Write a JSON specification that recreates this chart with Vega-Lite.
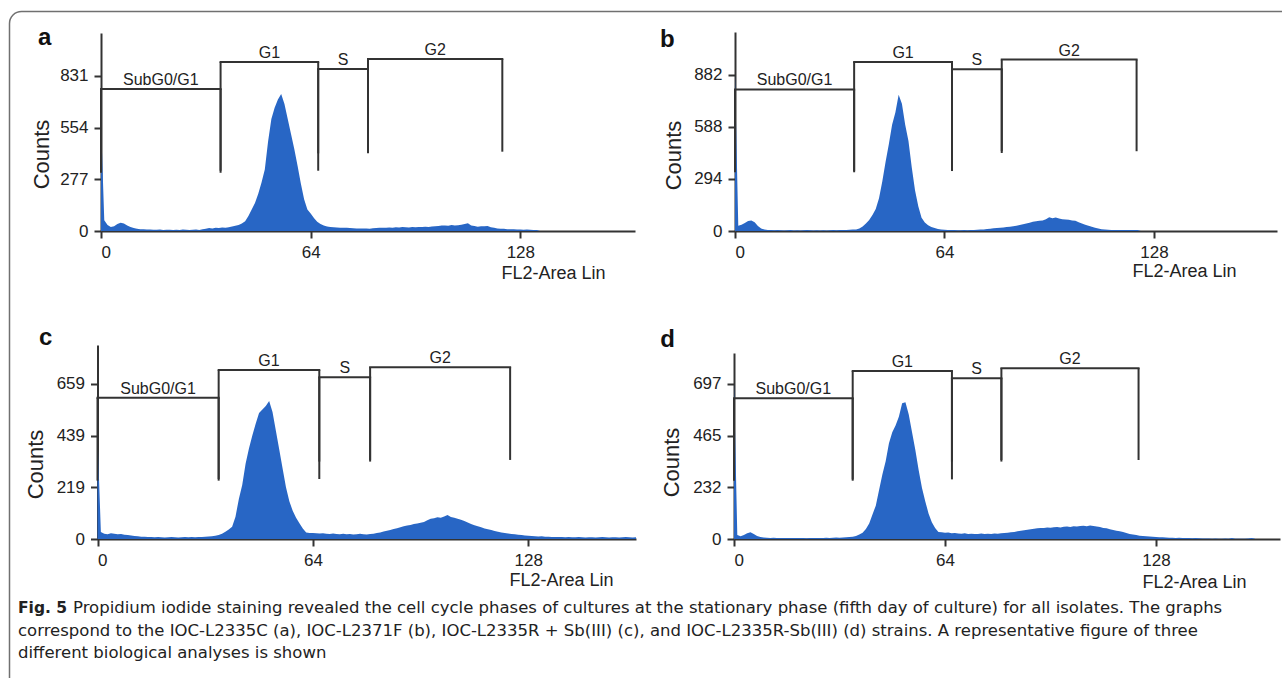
{
  "$schema": "https://vega.github.io/schema/vega-lite/v6.json",
  "width": 1282,
  "height": 678,
  "autosize": {"type": "none"},
  "padding": 0,
  "background": "white",
  "datasets": {
    "a": [{"x":0,"y":583},{"x":1,"y":58},{"x":2,"y":32},{"x":3,"y":22},{"x":4,"y":25},{"x":5,"y":38},{"x":6,"y":44},{"x":7,"y":40},{"x":8,"y":30},{"x":9,"y":22},{"x":10,"y":16},{"x":11,"y":12},{"x":12,"y":10},{"x":13,"y":9},{"x":14,"y":8},{"x":15,"y":8},{"x":16,"y":7},{"x":17,"y":7},{"x":18,"y":8},{"x":19,"y":6},{"x":20,"y":7},{"x":21,"y":7},{"x":22,"y":6},{"x":23,"y":7},{"x":24,"y":6},{"x":25,"y":8},{"x":26,"y":7},{"x":27,"y":6},{"x":28,"y":7},{"x":29,"y":8},{"x":30,"y":6},{"x":31,"y":10},{"x":32,"y":12},{"x":33,"y":16},{"x":34,"y":14},{"x":35,"y":17},{"x":36,"y":16},{"x":37,"y":19},{"x":38,"y":18},{"x":39,"y":20},{"x":40,"y":24},{"x":41,"y":28},{"x":42,"y":32},{"x":43,"y":40},{"x":44,"y":52},{"x":45,"y":80},{"x":46,"y":115},{"x":47,"y":150},{"x":48,"y":200},{"x":49,"y":260},{"x":50,"y":330},{"x":51,"y":480},{"x":52,"y":600},{"x":53,"y":660},{"x":54,"y":705},{"x":55,"y":734},{"x":56,"y":680},{"x":57,"y":600},{"x":58,"y":520},{"x":59,"y":440},{"x":60,"y":350},{"x":61,"y":254},{"x":62,"y":170},{"x":63,"y":115},{"x":64,"y":94},{"x":65,"y":70},{"x":66,"y":50},{"x":67,"y":38},{"x":68,"y":30},{"x":69,"y":24},{"x":70,"y":22},{"x":71,"y":20},{"x":72,"y":19},{"x":73,"y":18},{"x":74,"y":17},{"x":75,"y":18},{"x":76,"y":16},{"x":77,"y":15},{"x":78,"y":14},{"x":79,"y":14},{"x":80,"y":13},{"x":81,"y":14},{"x":82,"y":12},{"x":83,"y":15},{"x":84,"y":16},{"x":85,"y":17},{"x":86,"y":18},{"x":87,"y":17},{"x":88,"y":19},{"x":89,"y":18},{"x":90,"y":20},{"x":91,"y":19},{"x":92,"y":21},{"x":93,"y":20},{"x":94,"y":19},{"x":95,"y":21},{"x":96,"y":20},{"x":97,"y":22},{"x":98,"y":21},{"x":99,"y":23},{"x":100,"y":22},{"x":101,"y":24},{"x":102,"y":25},{"x":103,"y":27},{"x":104,"y":29},{"x":105,"y":30},{"x":106,"y":28},{"x":107,"y":32},{"x":108,"y":29},{"x":109,"y":31},{"x":110,"y":33},{"x":111,"y":38},{"x":112,"y":41},{"x":113,"y":30},{"x":114,"y":27},{"x":115,"y":23},{"x":116,"y":26},{"x":117,"y":25},{"x":118,"y":27},{"x":119,"y":20},{"x":120,"y":18},{"x":121,"y":14},{"x":122,"y":12},{"x":123,"y":12},{"x":124,"y":10},{"x":125,"y":9},{"x":126,"y":9},{"x":127,"y":8},{"x":128,"y":8},{"x":129,"y":7},{"x":130,"y":8},{"x":131,"y":7},{"x":132,"y":6},{"x":133,"y":6},{"x":134,"y":0}],
    "b": [{"x":0,"y":880},{"x":1,"y":30},{"x":2,"y":35},{"x":3,"y":45},{"x":4,"y":57},{"x":5,"y":60},{"x":6,"y":50},{"x":7,"y":28},{"x":8,"y":14},{"x":9,"y":8},{"x":10,"y":6},{"x":11,"y":5},{"x":12,"y":4},{"x":13,"y":5},{"x":14,"y":4},{"x":15,"y":3},{"x":16,"y":4},{"x":17,"y":5},{"x":18,"y":3},{"x":19,"y":4},{"x":20,"y":3},{"x":21,"y":4},{"x":22,"y":5},{"x":23,"y":4},{"x":24,"y":3},{"x":25,"y":4},{"x":26,"y":3},{"x":27,"y":4},{"x":28,"y":3},{"x":29,"y":4},{"x":30,"y":5},{"x":31,"y":4},{"x":32,"y":5},{"x":33,"y":6},{"x":34,"y":6},{"x":35,"y":7},{"x":36,"y":8},{"x":37,"y":9},{"x":38,"y":14},{"x":39,"y":26},{"x":40,"y":42},{"x":41,"y":62},{"x":42,"y":90},{"x":43,"y":125},{"x":44,"y":185},{"x":45,"y":280},{"x":46,"y":390},{"x":47,"y":490},{"x":48,"y":600},{"x":49,"y":670},{"x":50,"y":770},{"x":51,"y":720},{"x":52,"y":600},{"x":53,"y":509},{"x":54,"y":360},{"x":55,"y":230},{"x":56,"y":140},{"x":57,"y":75},{"x":58,"y":48},{"x":59,"y":32},{"x":60,"y":22},{"x":61,"y":17},{"x":62,"y":12},{"x":63,"y":9},{"x":64,"y":7},{"x":65,"y":6},{"x":66,"y":5},{"x":67,"y":5},{"x":68,"y":4},{"x":69,"y":4},{"x":70,"y":5},{"x":71,"y":4},{"x":72,"y":6},{"x":73,"y":5},{"x":74,"y":7},{"x":75,"y":8},{"x":76,"y":9},{"x":77,"y":12},{"x":78,"y":13},{"x":79,"y":15},{"x":80,"y":17},{"x":81,"y":19},{"x":82,"y":20},{"x":83,"y":22},{"x":84,"y":24},{"x":85,"y":27},{"x":86,"y":30},{"x":87,"y":34},{"x":88,"y":38},{"x":89,"y":42},{"x":90,"y":46},{"x":91,"y":52},{"x":92,"y":55},{"x":93,"y":58},{"x":94,"y":60},{"x":95,"y":66},{"x":96,"y":78},{"x":97,"y":72},{"x":98,"y":76},{"x":99,"y":70},{"x":100,"y":67},{"x":101,"y":65},{"x":102,"y":63},{"x":103,"y":60},{"x":104,"y":58},{"x":105,"y":50},{"x":106,"y":42},{"x":107,"y":36},{"x":108,"y":30},{"x":109,"y":24},{"x":110,"y":18},{"x":111,"y":14},{"x":112,"y":10},{"x":113,"y":8},{"x":114,"y":7},{"x":115,"y":6},{"x":116,"y":6},{"x":117,"y":5},{"x":118,"y":6},{"x":119,"y":5},{"x":120,"y":6},{"x":121,"y":5},{"x":122,"y":6},{"x":123,"y":5},{"x":124,"y":0}],
    "c": [{"x":0,"y":441},{"x":1,"y":30},{"x":2,"y":22},{"x":3,"y":20},{"x":4,"y":24},{"x":5,"y":22},{"x":6,"y":20},{"x":7,"y":21},{"x":8,"y":18},{"x":9,"y":17},{"x":10,"y":15},{"x":11,"y":13},{"x":12,"y":12},{"x":13,"y":10},{"x":14,"y":10},{"x":15,"y":9},{"x":16,"y":8},{"x":17,"y":7},{"x":18,"y":8},{"x":19,"y":7},{"x":20,"y":6},{"x":21,"y":7},{"x":22,"y":8},{"x":23,"y":7},{"x":24,"y":6},{"x":25,"y":7},{"x":26,"y":8},{"x":27,"y":7},{"x":28,"y":8},{"x":29,"y":7},{"x":30,"y":8},{"x":31,"y":9},{"x":32,"y":10},{"x":33,"y":11},{"x":34,"y":12},{"x":35,"y":14},{"x":36,"y":17},{"x":37,"y":22},{"x":38,"y":31},{"x":39,"y":40},{"x":40,"y":52},{"x":41,"y":95},{"x":42,"y":170},{"x":43,"y":230},{"x":44,"y":320},{"x":45,"y":385},{"x":46,"y":440},{"x":47,"y":490},{"x":48,"y":535},{"x":49,"y":550},{"x":50,"y":565},{"x":51,"y":586},{"x":52,"y":540},{"x":53,"y":460},{"x":54,"y":380},{"x":55,"y":300},{"x":56,"y":220},{"x":57,"y":160},{"x":58,"y":120},{"x":59,"y":90},{"x":60,"y":67},{"x":61,"y":45},{"x":62,"y":28},{"x":63,"y":26},{"x":64,"y":25},{"x":65,"y":24},{"x":66,"y":23},{"x":67,"y":24},{"x":68,"y":22},{"x":69,"y":21},{"x":70,"y":23},{"x":71,"y":21},{"x":72,"y":20},{"x":73,"y":22},{"x":74,"y":20},{"x":75,"y":21},{"x":76,"y":19},{"x":77,"y":20},{"x":78,"y":22},{"x":79,"y":20},{"x":80,"y":19},{"x":81,"y":21},{"x":82,"y":22},{"x":83,"y":25},{"x":84,"y":28},{"x":85,"y":32},{"x":86,"y":35},{"x":87,"y":38},{"x":88,"y":42},{"x":89,"y":46},{"x":90,"y":50},{"x":91,"y":54},{"x":92,"y":57},{"x":93,"y":60},{"x":94,"y":64},{"x":95,"y":66},{"x":96,"y":69},{"x":97,"y":72},{"x":98,"y":80},{"x":99,"y":86},{"x":100,"y":88},{"x":101,"y":92},{"x":102,"y":90},{"x":103,"y":96},{"x":104,"y":102},{"x":105,"y":94},{"x":106,"y":90},{"x":107,"y":86},{"x":108,"y":82},{"x":109,"y":76},{"x":110,"y":70},{"x":111,"y":64},{"x":112,"y":58},{"x":113,"y":54},{"x":114,"y":50},{"x":115,"y":45},{"x":116,"y":41},{"x":117,"y":38},{"x":118,"y":34},{"x":119,"y":31},{"x":120,"y":28},{"x":121,"y":26},{"x":122,"y":23},{"x":123,"y":21},{"x":124,"y":20},{"x":125,"y":18},{"x":126,"y":17},{"x":127,"y":15},{"x":128,"y":14},{"x":129,"y":13},{"x":130,"y":12},{"x":131,"y":11},{"x":132,"y":12},{"x":133,"y":10},{"x":134,"y":10},{"x":135,"y":9},{"x":136,"y":8},{"x":137,"y":9},{"x":138,"y":8},{"x":139,"y":7},{"x":140,"y":8},{"x":141,"y":7},{"x":142,"y":7},{"x":143,"y":8},{"x":144,"y":7},{"x":145,"y":6},{"x":146,"y":7},{"x":147,"y":7},{"x":148,"y":6},{"x":149,"y":7},{"x":150,"y":8},{"x":151,"y":7},{"x":152,"y":6},{"x":153,"y":7},{"x":154,"y":7},{"x":155,"y":6},{"x":156,"y":7},{"x":157,"y":8},{"x":158,"y":7},{"x":159,"y":6},{"x":160,"y":7}],
    "d": [{"x":0,"y":700},{"x":1,"y":18},{"x":2,"y":12},{"x":3,"y":18},{"x":4,"y":26},{"x":5,"y":30},{"x":6,"y":22},{"x":7,"y":14},{"x":8,"y":9},{"x":9,"y":7},{"x":10,"y":6},{"x":11,"y":5},{"x":12,"y":6},{"x":13,"y":5},{"x":14,"y":5},{"x":15,"y":4},{"x":16,"y":5},{"x":17,"y":4},{"x":18,"y":5},{"x":19,"y":4},{"x":20,"y":5},{"x":21,"y":4},{"x":22,"y":3},{"x":23,"y":4},{"x":24,"y":4},{"x":25,"y":5},{"x":26,"y":4},{"x":27,"y":5},{"x":28,"y":6},{"x":29,"y":5},{"x":30,"y":6},{"x":31,"y":7},{"x":32,"y":6},{"x":33,"y":7},{"x":34,"y":8},{"x":35,"y":9},{"x":36,"y":10},{"x":37,"y":14},{"x":38,"y":20},{"x":39,"y":28},{"x":40,"y":45},{"x":41,"y":70},{"x":42,"y":110},{"x":43,"y":150},{"x":44,"y":220},{"x":45,"y":290},{"x":46,"y":350},{"x":47,"y":430},{"x":48,"y":480},{"x":49,"y":510},{"x":50,"y":550},{"x":51,"y":610},{"x":52,"y":615},{"x":53,"y":560},{"x":54,"y":480},{"x":55,"y":400},{"x":56,"y":310},{"x":57,"y":230},{"x":58,"y":170},{"x":59,"y":115},{"x":60,"y":75},{"x":61,"y":50},{"x":62,"y":32},{"x":63,"y":30},{"x":64,"y":28},{"x":65,"y":29},{"x":66,"y":26},{"x":67,"y":27},{"x":68,"y":25},{"x":69,"y":24},{"x":70,"y":26},{"x":71,"y":23},{"x":72,"y":24},{"x":73,"y":22},{"x":74,"y":23},{"x":75,"y":25},{"x":76,"y":22},{"x":77,"y":24},{"x":78,"y":23},{"x":79,"y":25},{"x":80,"y":24},{"x":81,"y":26},{"x":82,"y":27},{"x":83,"y":28},{"x":84,"y":30},{"x":85,"y":32},{"x":86,"y":35},{"x":87,"y":37},{"x":88,"y":39},{"x":89,"y":42},{"x":90,"y":44},{"x":91,"y":46},{"x":92,"y":48},{"x":93,"y":49},{"x":94,"y":50},{"x":95,"y":52},{"x":96,"y":51},{"x":97,"y":53},{"x":98,"y":54},{"x":99,"y":52},{"x":100,"y":55},{"x":101,"y":56},{"x":102,"y":54},{"x":103,"y":57},{"x":104,"y":56},{"x":105,"y":58},{"x":106,"y":59},{"x":107,"y":57},{"x":108,"y":61},{"x":109,"y":58},{"x":110,"y":56},{"x":111,"y":54},{"x":112,"y":50},{"x":113,"y":48},{"x":114,"y":44},{"x":115,"y":40},{"x":116,"y":37},{"x":117,"y":35},{"x":118,"y":31},{"x":119,"y":27},{"x":120,"y":23},{"x":121,"y":20},{"x":122,"y":18},{"x":123,"y":15},{"x":124,"y":14},{"x":125,"y":12},{"x":126,"y":11},{"x":127,"y":10},{"x":128,"y":9},{"x":129,"y":8},{"x":130,"y":8},{"x":131,"y":7},{"x":132,"y":6},{"x":133,"y":6},{"x":134,"y":5},{"x":135,"y":6},{"x":136,"y":5},{"x":137,"y":5},{"x":138,"y":4},{"x":139,"y":3},{"x":140,"y":4},{"x":141,"y":3},{"x":142,"y":2},{"x":143,"y":2},{"x":144,"y":2},{"x":145,"y":1},{"x":146,"y":2},{"x":147,"y":1},{"x":148,"y":1},{"x":149,"y":2},{"x":150,"y":1},{"x":151,"y":4},{"x":152,"y":1},{"x":153,"y":1},{"x":154,"y":1},{"x":155,"y":1},{"x":156,"y":2},{"x":157,"y":4},{"x":158,"y":1}],
    "gates": [
      {"panel":"a","gate":"SubG0/G1","lo":0,"hi":36.5,"level":761,"foot":312},
      {"panel":"a","gate":"G1","lo":36.5,"hi":66.3,"level":906,"foot":323},
      {"panel":"a","gate":"S","lo":66.3,"hi":81.5,"level":868,"foot":416},
      {"panel":"a","gate":"G2","lo":81.5,"hi":122.5,"level":922,"foot":425},
      {"panel":"b","gate":"SubG0/G1","lo":0,"hi":36.4,"level":800,"foot":332},
      {"panel":"b","gate":"G1","lo":36.4,"hi":66.3,"level":956,"foot":339},
      {"panel":"b","gate":"S","lo":66.3,"hi":81.5,"level":914,"foot":441},
      {"panel":"b","gate":"G2","lo":81.5,"hi":122.7,"level":969,"foot":451},
      {"panel":"c","gate":"SubG0/G1","lo":0,"hi":36.0,"level":600,"foot":248},
      {"panel":"c","gate":"G1","lo":36.0,"hi":65.9,"level":718,"foot":255},
      {"panel":"c","gate":"S","lo":65.9,"hi":81.0,"level":687,"foot":329},
      {"panel":"c","gate":"G2","lo":81.0,"hi":122.6,"level":730,"foot":336},
      {"panel":"d","gate":"SubG0/G1","lo":0,"hi":36.0,"level":633,"foot":262},
      {"panel":"d","gate":"G1","lo":36.0,"hi":66.1,"level":755,"foot":268},
      {"panel":"d","gate":"S","lo":66.1,"hi":81.1,"level":723,"foot":348},
      {"panel":"d","gate":"G2","lo":81.1,"hi":122.7,"level":768,"foot":355}
    ],
    "panels": [{"panel":"a","letter":"a"},{"panel":"b","letter":"b"},{"panel":"c","letter":"c"},{"panel":"d","letter":"d"}],
    "caption": [
      {"line":1,"seg":"head","text":"Fig. 5"},
      {"line":1,"seg":"lead","text":"Propidium iodide staining revealed the cell cycle phases of cultures at the stationary phase (fifth day of culture) for all isolates. The graphs"},
      {"line":2,"seg":"body","text":"correspond to the IOC-L2335C (a), IOC-L2371F (b), IOC-L2335R + Sb(III) (c), and IOC-L2335R-Sb(III) (d) strains. A representative figure of three"},
      {"line":3,"seg":"body","text":"different biological analyses is shown"}
    ],
    "frame": [{"part":"border"}]
  },
  "layer": [
    {
      "data": {"name": "frame"},
      "mark": {"type": "rect", "fillOpacity": 0, "stroke": "#707070", "strokeWidth": 1.5, "cornerRadius": 12},
      "encoding": {
        "x": {"datum": 0, "type": "quantitative", "scale": {"domain": [0, 1], "range": [9.5, 1400]}, "axis": null},
        "x2": {"datum": 1},
        "y": {"datum": 0, "type": "quantitative", "scale": {"domain": [0, 1], "range": [11.5, 900]}, "axis": null},
        "y2": {"datum": 1}
      }
    },
    {
      "layer": [
        {
          "data": {"name": "a"},
          "mark": {"type": "area", "color": "#2866c5", "interpolate": "linear"},
          "encoding": {
            "x": {"field": "x", "type": "quantitative", "scale": {"domain": [0, 163], "range": [101, 635], "nice": false, "zero": false},
                  "axis": {"orient": "bottom", "offset": -447, "values": [0, 64, 128], "title": "FL2-Area Lin", "titleX": 501, "titleY": 42, "titleAlign": "left", "titleBaseline": "middle", "labelOverlap": false}},
            "y": {"field": "y", "type": "quantitative", "scale": {"domain": [0, 1061], "range": [231, 33], "nice": false},
                  "axis": {"orient": "left", "offset": -101, "values": [0, 277, 554, 831], "title": "Counts", "titleX": -60, "titleY": 154, "titleAngle": -90, "titleAlign": "center", "titleBaseline": "middle", "labelOverlap": false}}
          }
        },
        {"data": {"name": "gates"}, "transform": [{"filter": "datum.panel === 'a'"}],
         "mark": {"type": "rule", "color": "#333", "strokeWidth": 2, "strokeCap": "square"},
         "encoding": {"x": {"field": "lo", "type": "quantitative"}, "x2": {"field": "hi"}, "y": {"field": "level", "type": "quantitative"}}},
        {"data": {"name": "gates"}, "transform": [{"filter": "datum.panel === 'a'"}],
         "mark": {"type": "rule", "color": "#333", "strokeWidth": 2},
         "encoding": {"x": {"field": "lo", "type": "quantitative"}, "y": {"field": "level", "type": "quantitative"}, "y2": {"field": "foot"}}},
        {"data": {"name": "gates"}, "transform": [{"filter": "datum.panel === 'a'"}],
         "mark": {"type": "rule", "color": "#333", "strokeWidth": 2},
         "encoding": {"x": {"field": "hi", "type": "quantitative"}, "y": {"field": "level", "type": "quantitative"}, "y2": {"field": "foot"}}},
        {"data": {"name": "gates"}, "transform": [{"filter": "datum.panel === 'a'"}, {"fold": ["lo", "hi"], "as": ["edge", "pos"]}, {"aggregate": [{"op": "mean", "field": "pos", "as": "mid"}, {"op": "max", "field": "level", "as": "top"}], "groupby": ["gate"]}],
         "mark": {"type": "text", "font": "Liberation Sans", "fontSize": 16, "color": "#222", "baseline": "alphabetic", "dy": -4},
         "encoding": {"x": {"field": "mid", "type": "quantitative"}, "y": {"field": "top", "type": "quantitative"}, "text": {"field": "gate"}}},
        {"data": {"name": "panels"}, "transform": [{"filter": "datum.panel === 'a'"}],
         "mark": {"type": "text", "font": "Liberation Sans", "fontWeight": "bold", "fontSize": 24, "color": "#111", "align": "left", "baseline": "alphabetic"},
         "encoding": {"x": {"datum": -19.2, "type": "quantitative"}, "y": {"datum": 997, "type": "quantitative"}, "text": {"field": "letter"}}}
      ]
    },
    {
      "layer": [
        {
          "data": {"name": "b"},
          "mark": {"type": "area", "color": "#2866c5", "interpolate": "linear"},
          "encoding": {
            "x": {"field": "x", "type": "quantitative", "scale": {"domain": [0, 165.6], "range": [735, 1277], "nice": false, "zero": false},
                  "axis": {"orient": "bottom", "offset": -447, "values": [0, 64, 128], "title": "FL2-Area Lin", "titleX": 1132, "titleY": 40, "titleAlign": "left", "titleBaseline": "middle", "labelOverlap": false}},
            "y": {"field": "y", "type": "quantitative", "scale": {"domain": [0, 1125], "range": [231, 32], "nice": false},
                  "axis": {"orient": "left", "offset": -735, "values": [0, 294, 588, 882], "title": "Counts", "titleX": -62, "titleY": 155, "titleAngle": -90, "titleAlign": "center", "titleBaseline": "middle", "labelOverlap": false}}
          }
        },
        {"data": {"name": "gates"}, "transform": [{"filter": "datum.panel === 'b'"}],
         "mark": {"type": "rule", "color": "#333", "strokeWidth": 2, "strokeCap": "square"},
         "encoding": {"x": {"field": "lo", "type": "quantitative"}, "x2": {"field": "hi"}, "y": {"field": "level", "type": "quantitative"}}},
        {"data": {"name": "gates"}, "transform": [{"filter": "datum.panel === 'b'"}],
         "mark": {"type": "rule", "color": "#333", "strokeWidth": 2},
         "encoding": {"x": {"field": "lo", "type": "quantitative"}, "y": {"field": "level", "type": "quantitative"}, "y2": {"field": "foot"}}},
        {"data": {"name": "gates"}, "transform": [{"filter": "datum.panel === 'b'"}],
         "mark": {"type": "rule", "color": "#333", "strokeWidth": 2},
         "encoding": {"x": {"field": "hi", "type": "quantitative"}, "y": {"field": "level", "type": "quantitative"}, "y2": {"field": "foot"}}},
        {"data": {"name": "gates"}, "transform": [{"filter": "datum.panel === 'b'"}, {"fold": ["lo", "hi"], "as": ["edge", "pos"]}, {"aggregate": [{"op": "mean", "field": "pos", "as": "mid"}, {"op": "max", "field": "level", "as": "top"}], "groupby": ["gate"]}],
         "mark": {"type": "text", "font": "Liberation Sans", "fontSize": 16, "color": "#222", "baseline": "alphabetic", "dy": -4},
         "encoding": {"x": {"field": "mid", "type": "quantitative"}, "y": {"field": "top", "type": "quantitative"}, "text": {"field": "gate"}}},
        {"data": {"name": "panels"}, "transform": [{"filter": "datum.panel === 'b'"}],
         "mark": {"type": "text", "font": "Liberation Sans", "fontWeight": "bold", "fontSize": 24, "color": "#111", "align": "left", "baseline": "alphabetic"},
         "encoding": {"x": {"datum": -22.9, "type": "quantitative"}, "y": {"datum": 1040, "type": "quantitative"}, "text": {"field": "letter"}}}
      ]
    },
    {
      "layer": [
        {
          "data": {"name": "c"},
          "mark": {"type": "area", "color": "#2866c5", "interpolate": "linear"},
          "encoding": {
            "x": {"field": "x", "type": "quantitative", "scale": {"domain": [0, 160], "range": [97.5, 636], "nice": false, "zero": false},
                  "axis": {"orient": "bottom", "offset": -139, "values": [0, 64, 128], "title": "FL2-Area Lin", "titleX": 509, "titleY": 41, "titleAlign": "left", "titleBaseline": "middle", "labelOverlap": false}},
            "y": {"field": "y", "type": "quantitative", "scale": {"domain": [0, 824.5], "range": [539, 345], "nice": false},
                  "axis": {"orient": "left", "offset": -97.5, "values": [0, 219, 439, 659], "title": "Counts", "titleX": -62, "titleY": 464, "titleAngle": -90, "titleAlign": "center", "titleBaseline": "middle", "labelOverlap": false}}
          }
        },
        {"data": {"name": "gates"}, "transform": [{"filter": "datum.panel === 'c'"}],
         "mark": {"type": "rule", "color": "#333", "strokeWidth": 2, "strokeCap": "square"},
         "encoding": {"x": {"field": "lo", "type": "quantitative"}, "x2": {"field": "hi"}, "y": {"field": "level", "type": "quantitative"}}},
        {"data": {"name": "gates"}, "transform": [{"filter": "datum.panel === 'c'"}],
         "mark": {"type": "rule", "color": "#333", "strokeWidth": 2},
         "encoding": {"x": {"field": "lo", "type": "quantitative"}, "y": {"field": "level", "type": "quantitative"}, "y2": {"field": "foot"}}},
        {"data": {"name": "gates"}, "transform": [{"filter": "datum.panel === 'c'"}],
         "mark": {"type": "rule", "color": "#333", "strokeWidth": 2},
         "encoding": {"x": {"field": "hi", "type": "quantitative"}, "y": {"field": "level", "type": "quantitative"}, "y2": {"field": "foot"}}},
        {"data": {"name": "gates"}, "transform": [{"filter": "datum.panel === 'c'"}, {"fold": ["lo", "hi"], "as": ["edge", "pos"]}, {"aggregate": [{"op": "mean", "field": "pos", "as": "mid"}, {"op": "max", "field": "level", "as": "top"}], "groupby": ["gate"]}],
         "mark": {"type": "text", "font": "Liberation Sans", "fontSize": 16, "color": "#222", "baseline": "alphabetic", "dy": -4},
         "encoding": {"x": {"field": "mid", "type": "quantitative"}, "y": {"field": "top", "type": "quantitative"}, "text": {"field": "gate"}}},
        {"data": {"name": "panels"}, "transform": [{"filter": "datum.panel === 'c'"}],
         "mark": {"type": "text", "font": "Liberation Sans", "fontWeight": "bold", "fontSize": 24, "color": "#111", "align": "left", "baseline": "alphabetic"},
         "encoding": {"x": {"datum": -17.4, "type": "quantitative"}, "y": {"datum": 824, "type": "quantitative"}, "text": {"field": "letter"}}}
      ]
    },
    {
      "layer": [
        {
          "data": {"name": "d"},
          "mark": {"type": "area", "color": "#2866c5", "interpolate": "linear"},
          "encoding": {
            "x": {"field": "x", "type": "quantitative", "scale": {"domain": [0, 165.6], "range": [734, 1280], "nice": false, "zero": false},
                  "axis": {"orient": "bottom", "offset": -139, "values": [0, 64, 128], "title": "FL2-Area Lin", "titleX": 1142, "titleY": 43, "titleAlign": "left", "titleBaseline": "middle", "labelOverlap": false}},
            "y": {"field": "y", "type": "quantitative", "scale": {"domain": [0, 836], "range": [539, 353], "nice": false},
                  "axis": {"orient": "left", "offset": -734, "values": [0, 232, 465, 697], "title": "Counts", "titleX": -63, "titleY": 462, "titleAngle": -90, "titleAlign": "center", "titleBaseline": "middle", "labelOverlap": false}}
          }
        },
        {"data": {"name": "gates"}, "transform": [{"filter": "datum.panel === 'd'"}],
         "mark": {"type": "rule", "color": "#333", "strokeWidth": 2, "strokeCap": "square"},
         "encoding": {"x": {"field": "lo", "type": "quantitative"}, "x2": {"field": "hi"}, "y": {"field": "level", "type": "quantitative"}}},
        {"data": {"name": "gates"}, "transform": [{"filter": "datum.panel === 'd'"}],
         "mark": {"type": "rule", "color": "#333", "strokeWidth": 2},
         "encoding": {"x": {"field": "lo", "type": "quantitative"}, "y": {"field": "level", "type": "quantitative"}, "y2": {"field": "foot"}}},
        {"data": {"name": "gates"}, "transform": [{"filter": "datum.panel === 'd'"}],
         "mark": {"type": "rule", "color": "#333", "strokeWidth": 2},
         "encoding": {"x": {"field": "hi", "type": "quantitative"}, "y": {"field": "level", "type": "quantitative"}, "y2": {"field": "foot"}}},
        {"data": {"name": "gates"}, "transform": [{"filter": "datum.panel === 'd'"}, {"fold": ["lo", "hi"], "as": ["edge", "pos"]}, {"aggregate": [{"op": "mean", "field": "pos", "as": "mid"}, {"op": "max", "field": "level", "as": "top"}], "groupby": ["gate"]}],
         "mark": {"type": "text", "font": "Liberation Sans", "fontSize": 16, "color": "#222", "baseline": "alphabetic", "dy": -4},
         "encoding": {"x": {"field": "mid", "type": "quantitative"}, "y": {"field": "top", "type": "quantitative"}, "text": {"field": "gate"}}},
        {"data": {"name": "panels"}, "transform": [{"filter": "datum.panel === 'd'"}],
         "mark": {"type": "text", "font": "Liberation Sans", "fontWeight": "bold", "fontSize": 24, "color": "#111", "align": "left", "baseline": "alphabetic"},
         "encoding": {"x": {"datum": -22.4, "type": "quantitative"}, "y": {"datum": 863, "type": "quantitative"}, "text": {"field": "letter"}}}
      ]
    },
    {
      "data": {"name": "caption"},
      "layer": [
        {"transform": [{"filter": "datum.seg === 'head'"}],
         "mark": {"type": "text", "font": "DejaVu Sans", "fontWeight": "bold", "fontSize": 15.5, "color": "#222", "align": "left", "baseline": "alphabetic"},
         "encoding": {"x": {"datum": 0, "type": "quantitative", "scale": {"domain": [0, 1], "range": [18, 1282]}, "axis": null},
                      "y": {"field": "line", "type": "quantitative", "scale": {"domain": [1, 3], "range": [613, 658]}, "axis": null},
                      "text": {"field": "text"}}},
        {"transform": [{"filter": "datum.seg === 'lead'"}],
         "mark": {"type": "text", "font": "DejaVu Sans", "fontSize": 16.5, "color": "#222", "align": "left", "baseline": "alphabetic", "dx": 55},
         "encoding": {"x": {"datum": 0, "type": "quantitative", "scale": {"domain": [0, 1], "range": [18, 1282]}, "axis": null},
                      "y": {"field": "line", "type": "quantitative", "scale": {"domain": [1, 3], "range": [613, 658]}, "axis": null},
                      "text": {"field": "text"}}},
        {"transform": [{"filter": "datum.seg === 'body'"}],
         "mark": {"type": "text", "font": "DejaVu Sans", "fontSize": 16.5, "color": "#222", "align": "left", "baseline": "alphabetic"},
         "encoding": {"x": {"datum": 0, "type": "quantitative", "scale": {"domain": [0, 1], "range": [18, 1282]}, "axis": null},
                      "y": {"field": "line", "type": "quantitative", "scale": {"domain": [1, 3], "range": [613, 658]}, "axis": null},
                      "text": {"field": "text"}}}
      ]
    }
  ],
  "resolve": {"scale": {"x": "independent", "y": "independent"}},
  "config": {
    "view": {"stroke": null},
    "axis": {
      "grid": false,
      "domainColor": "#333",
      "domainWidth": 2,
      "tickColor": "#333",
      "tickWidth": 2,
      "tickSize": 7,
      "labelPadding": 6,
      "labelFont": "Liberation Sans",
      "labelFontSize": 17,
      "labelColor": "#222",
      "titleFont": "Liberation Sans",
      "titleFontWeight": "normal",
      "titleColor": "#222"
    },
    "axisX": {"titleFontSize": 18},
    "axisY": {"titleFontSize": 22}
  }
}
